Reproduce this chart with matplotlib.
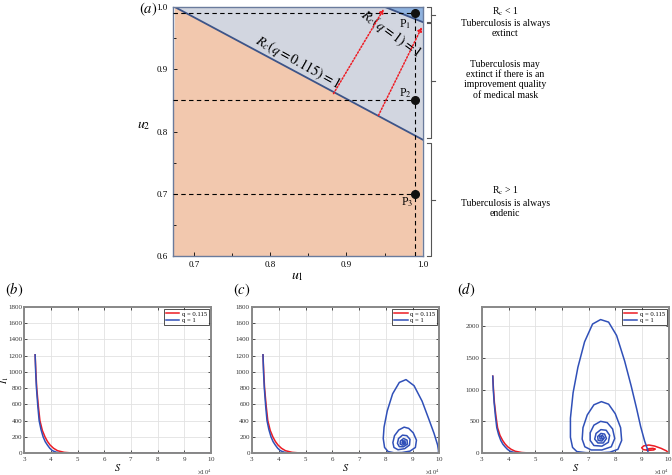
import numpy as np
import matplotlib.pyplot as plt
from matplotlib.transforms import blended_transform_factory

plt.rcParams['font.family'] = ['Liberation Serif', 'DejaVu Serif']
plt.rcParams['mathtext.fontset'] = 'stix'

# ---- panel (a) data ----
line1_u1 = [0.675, 1.0]      # R_c(q=0.115)=1
line1_u2 = [1.0, 0.787]
line2_u1 = [0.951, 1.0]      # R_c(q=1)=1
line2_u2 = [1.0, 0.976]
pts_u1 = [0.99, 0.99, 0.99]
pts_u2 = [0.99, 0.85, 0.70]
pts_names = ['P$_1$', 'P$_2$', 'P$_3$']
arrow_start = [(0.883, 0.861), (0.942, 0.826)]
arrow_end = [(0.949, 0.997), (0.999, 0.968)]

# ---- phase portraits, S in units of 1e4 ----
decay_blue_S = [3.41, 3.43, 3.46, 3.51, 3.56, 3.63, 3.71, 3.79, 3.87, 3.96, 4.06, 4.2, 4.37, 4.6]
decay_blue_I = [1210, 1000, 800, 580, 400, 290, 200, 140, 100, 60, 30, 12, 2, 0]
decay_red_S = [3.41, 3.44, 3.47, 3.53, 3.59, 3.68, 3.78, 3.87, 3.97, 4.1, 4.25, 4.5, 4.8, 5.1]
decay_red_I = [1210, 980, 800, 580, 400, 280, 200, 145, 100, 60, 30, 10, 2, 0]

c_blue_S = [9.9, 9.97, 9.93, 9.8, 9.6, 9.35, 9.05, 8.75, 8.5, 8.25, 8.05, 7.93, 7.9, 7.95, 8.08, 8.3,
            8.6, 8.9, 9.1, 9.14, 9.02, 8.85, 8.68, 8.48, 8.32, 8.26, 8.3, 8.45, 8.7, 8.88, 8.9, 8.78,
            8.62, 8.47, 8.43, 8.5, 8.65, 8.8, 8.79, 8.66, 8.54, 8.53, 8.62, 8.73, 8.71, 8.63, 8.6, 8.66,
            8.67, 8.64]
c_blue_I = [0, 15, 100, 240, 420, 640, 830, 905, 870, 730, 520, 320, 180, 70, 20, 5,
            8, 25, 70, 160, 250, 305, 320, 285, 215, 130, 70, 42, 55, 100, 170, 215,
            222, 180, 120, 80, 78, 110, 160, 180, 150, 112, 98, 118, 150, 152, 125, 118,
            135, 132]

d_blue_S = [9.2, 9.23, 9.2, 9.1, 8.95, 8.8, 8.6, 8.35, 8.05, 7.75, 7.45, 7.15, 6.85, 6.6, 6.42, 6.32,
            6.32, 6.4, 6.56, 6.9, 7.4, 7.8, 8.1, 8.24, 8.2, 8.0, 7.75, 7.48, 7.2, 6.95, 6.79, 6.76,
            6.86, 7.1, 7.5, 7.85, 7.98, 7.9, 7.7, 7.45, 7.2, 7.06, 7.06, 7.2, 7.5, 7.74, 7.79, 7.66,
            7.46, 7.28, 7.23, 7.35, 7.55, 7.67, 7.6, 7.46, 7.34, 7.36, 7.5, 7.59, 7.52, 7.42, 7.43,
            7.52, 7.49]
d_blue_I = [0, 15, 70, 190, 420, 700, 1050, 1450, 1850, 2060, 2100, 2030, 1750, 1350, 950, 550,
            250, 90, 25, 8, 5, 15, 60, 200, 400, 620, 770, 810, 760, 600, 400, 220,
            100, 50, 50, 100, 230, 380, 480, 500, 440, 320, 200, 120, 110, 170, 280, 360,
            370, 310, 220, 160, 160, 230, 300, 310, 260, 200, 190, 240, 280, 262, 222,
            225, 250]
d_red_S = [9.9, 9.98, 9.92, 9.72, 9.47, 9.26, 9.07, 8.99, 9.05, 9.25, 9.44, 9.5, 9.41, 9.26, 9.18, 9.22]
d_red_I = [0, 8, 35, 75, 112, 128, 115, 85, 55, 44, 50, 65, 76, 70, 57, 50]

RED = '#ec1c24'
BLUE = '#3050b8'

fig = plt.figure(figsize=(6.72, 4.75), dpi=100)

# ================= panel (a) =================
ax = fig.add_axes([0.257, 0.461, 0.372, 0.524])
xl = (0.672, 1.0)
yl = (0.6, 1.0)
ax.fill([xl[0], line1_u1[0], line1_u1[1], xl[1], xl[0]],
        [yl[0], line1_u2[0], line1_u2[1], yl[0], yl[0]], color='#f2c8ae', lw=0, zorder=0)
ax.fill([line1_u1[0], line2_u1[0], line2_u1[1], line1_u1[1]],
        [line1_u2[0], line2_u2[0], line2_u2[1], line1_u2[1]], color='#d2d6e0', lw=0, zorder=0)
ax.fill([line2_u1[0], xl[1], line2_u1[1]],
        [line2_u2[0], yl[1], line2_u2[1]], color='#8fb2de', lw=0, zorder=0)
ax.plot(line1_u1, line1_u2, color='#3d5488', lw=1.3, zorder=2)
ax.plot(line2_u1, line2_u2, color='#3d5488', lw=1.3, zorder=2)

for u2 in pts_u2:
    ax.plot([xl[0], pts_u1[0]], [u2, u2], 'k--', lw=0.8, dashes=(4, 3), zorder=3)
ax.plot([pts_u1[0], pts_u1[0]], [yl[0], pts_u2[0]], 'k--', lw=0.8, dashes=(4, 3), zorder=3)
ax.plot(pts_u1, pts_u2, 'o', color='#111111', ms=5.5, zorder=5)
ax.text(0.985, 0.972, pts_names[0], ha='right', va='center', fontsize=8.5)
ax.text(0.985, 0.862, pts_names[1], ha='right', va='center', fontsize=8.5)
ax.text(0.988, 0.686, pts_names[2], ha='right', va='center', fontsize=8.5)

for s, e in zip(arrow_start, arrow_end):
    ax.annotate('', xy=e, xytext=s,
                arrowprops=dict(arrowstyle='-|>', color='#ee1c24', lw=1.1, ls=(0, (1, 1.2)),
                                mutation_scale=6, shrinkA=0, shrinkB=0), zorder=4)

ax.text(0.837, 0.912, r'$R_c(q = 0.115) = 1$', rotation=-29, ha='center', va='center',
        fontsize=10, rotation_mode='anchor')
ax.text(0.958, 0.957, r'$R_c(q = 1) = 1$', rotation=-36, ha='center', va='center',
        fontsize=10, rotation_mode='anchor')

ax.set_xlim(*xl)
ax.set_ylim(*yl)
ax.set_xticks([0.7, 0.8, 0.9, 1.0])
ax.set_xticklabels(['0.7', '0.8', '0.9', '1.0'])
ax.set_yticks([0.6, 0.7, 0.8, 0.9, 1.0])
ax.set_yticklabels(['0.6', '0.7', '0.8', '0.9', '1.0'])
ax.set_xticks([0.75, 0.85, 0.95], minor=True)
ax.set_yticks([0.65, 0.75, 0.85, 0.95], minor=True)
ax.tick_params(direction='in', labelsize=6.5, length=3, width=0.6, top=False, right=False)
ax.tick_params(which='minor', direction='in', length=2, width=0.6)
for sp in ax.spines.values():
    sp.set_color('#6a7b9c')
    sp.set_linewidth(1.0)
ax.set_xlabel('$u_1$', fontsize=10, labelpad=1)
ax.set_ylabel('$u_2$', fontsize=10, rotation=0, labelpad=9)
fig.text(0.22, 0.981, '$(a)$', fontsize=10.5, ha='center', va='center')

# braces and region descriptions
tr = blended_transform_factory(ax.transAxes, ax.transData)
braces = [(1.0, 0.976), (0.974, 0.789), (0.781, 0.6)]
for top, bot in braces:
    mid = (top + bot) / 2
    ax.plot([1.016, 1.033, 1.033, 1.016], [top, top, bot, bot], color='#555555', lw=0.8,
            transform=tr, clip_on=False)
    ax.plot([1.033, 1.05], [mid, mid], color='#555555', lw=0.8, transform=tr, clip_on=False)

ax.text(1.33, 0.976, 'R$_\\mathrm{c}$ < 1\nTuberculosis is always\nextinct', transform=tr,
        ha='center', va='center', fontsize=7, linespacing=1.15)
ax.text(1.33, 0.883, 'Tuberculosis may\nextinct if there is an\nimprovement quality\nof medical mask',
        transform=tr, ha='center', va='center', fontsize=7, linespacing=1.15)
ax.text(1.33, 0.688, 'R$_\\mathrm{c}$ > 1\nTuberculosis is always\nendenic', transform=tr,
        ha='center', va='center', fontsize=7, linespacing=1.15)


# ================= phase portraits =================
def phase_axes(rect, ymax, yticks):
    a = fig.add_axes(rect)
    a.set_xlim(3e4, 1e5)
    a.set_ylim(0, ymax)
    a.set_xticks(np.arange(3, 11) * 1e4)
    a.set_yticks(yticks)
    a.ticklabel_format(axis='x', style='sci', scilimits=(4, 4), useMathText=True)
    a.xaxis.get_offset_text().set_fontsize(4.5)
    a.grid(True, color='#e2e2e2', lw=0.6)
    a.set_axisbelow(True)
    a.tick_params(direction='in', labelsize=5, length=2.5, width=0.6, top=True, right=True,
                  pad=1.5, colors='#333333')
    for sp in a.spines.values():
        sp.set_color('#888888')
        sp.set_linewidth(1.4)
    a.set_xlabel('$S$', fontsize=7.5, labelpad=-1)
    return a


yt18 = np.arange(0, 1801, 200)
axb = phase_axes([0.036, 0.046, 0.278, 0.308], 1800, yt18)
axc = phase_axes([0.375, 0.046, 0.279, 0.308], 1800, yt18)
axd = phase_axes([0.717, 0.046, 0.278, 0.308], 2300, np.arange(0, 2001, 500))

# (b) both go extinct
axb.plot(np.array(decay_red_S + [10.0]) * 1e4, decay_red_I + [0], color=RED, lw=1.1, label='q = 0.115')
axb.plot(np.array(decay_blue_S + [10.0]) * 1e4, decay_blue_I + [0], color=BLUE, lw=1.1, label='q = 1')

# (c)
axc.plot(np.array(decay_red_S + [10.0]) * 1e4, decay_red_I + [0], color=RED, lw=1.1, label='q = 0.115')
axc.plot(np.array(decay_blue_S + c_blue_S) * 1e4, decay_blue_I + c_blue_I, color=BLUE, lw=1.1, label='q = 1')

# (d)
axd.plot(np.array(decay_red_S + d_red_S) * 1e4, decay_red_I + d_red_I, color=RED, lw=1.1, label='q = 0.115')
axd.plot(np.array(decay_blue_S + d_blue_S) * 1e4, decay_blue_I + d_blue_I, color=BLUE, lw=1.1, label='q = 1')

for a in (axb, axc, axd):
    leg = a.legend(loc='upper right', fontsize=4.8, frameon=True, fancybox=False, handlelength=2.0,
                   borderpad=0.3, labelspacing=0.15, handletextpad=0.4, borderaxespad=0.3)
    leg.get_frame().set_edgecolor('black')
    leg.get_frame().set_linewidth(0.6)

axb.set_ylabel('$I_1$', fontsize=7)
axb.yaxis.set_label_coords(-0.07, 0.5)

fig.text(0.008, 0.389, '$(b)$', fontsize=10.5, ha='left', va='center')
fig.text(0.347, 0.389, '$(c)$', fontsize=10.5, ha='left', va='center')
fig.text(0.680, 0.389, '$(d)$', fontsize=10.5, ha='left', va='center')

fig.savefig('out.png', dpi=100)
